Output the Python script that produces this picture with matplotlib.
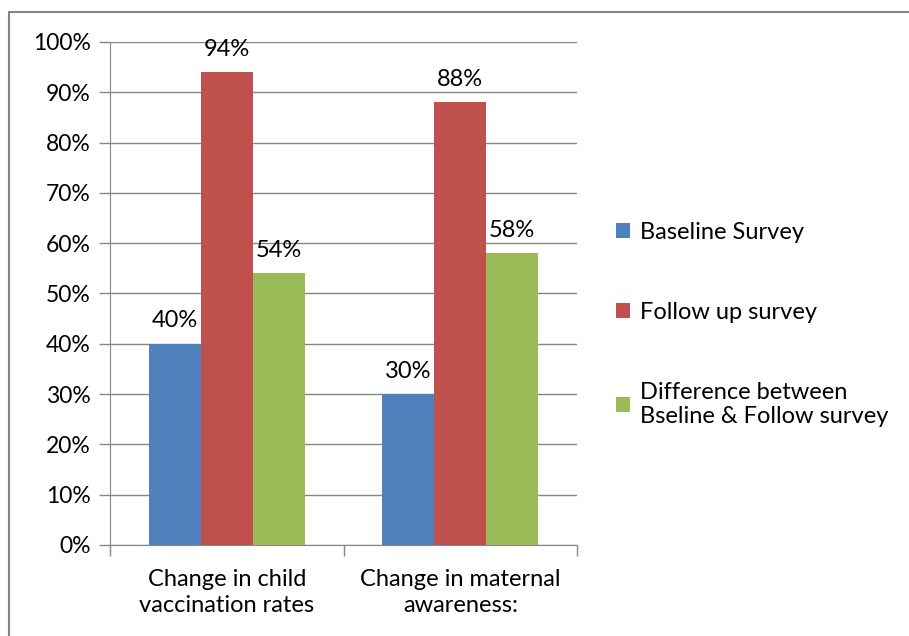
import matplotlib.pyplot as plt
from matplotlib.patches import Rectangle
from matplotlib.ticker import PercentFormatter
import numpy as np

plt.rcParams['font.family'] = ['Lato', 'DejaVu Sans']

categories = ['Change in child\nvaccination rates', 'Change in maternal\nawareness:']
series_names = ['Baseline Survey', 'Follow up survey',
                'Difference between\nBseline & Follow survey']
baseline = [40, 30]
follow_up = [94, 88]
difference = [54, 58]
colors = ['#4F81BD', '#C0504D', '#9BBB59']

fig = plt.figure(figsize=(9.09, 6.36), dpi=100)
ax = fig.add_axes([0.121, 0.1431, 0.5138, 0.7909])

# outer chart frame (cropped on the right and bottom in the original)
fig.patches.append(Rectangle((9 / 909, -0.1), 1.1, 1 - 12 / 636 + 0.1,
                             transform=fig.transFigure, fill=False,
                             edgecolor='#868686', lw=1.5))

x = np.arange(len(categories))
w = 0.2227
grid_col = '#868686'
fs = 17

for i, (vals, name) in enumerate(zip([baseline, follow_up, difference], series_names)):
    bars = ax.bar(x + (i - 1) * w, vals, w, color=colors[i], label=name, zorder=3)
    ax.bar_label(bars, labels=[f'{v}%' for v in vals], padding=9, fontsize=fs)

ax.set_xlim(-0.5, 1.5)
ax.set_ylim(0, 100)
ax.set_yticks(range(0, 101, 10))
ax.yaxis.set_major_formatter(PercentFormatter(decimals=0))
ax.grid(axis='y', color=grid_col, lw=1, zorder=0)

ax.set_xticks([-0.5, 0.5, 1.5])
ax.set_xticklabels([])
ax.set_xticks(x, minor=True)
ax.set_xticklabels(categories, minor=True, fontsize=fs, linespacing=1.3)
ax.tick_params(axis='x', which='minor', length=0, pad=17)
ax.tick_params(axis='x', which='major', length=8, color=grid_col, width=1)
ax.tick_params(axis='y', length=8, color=grid_col, width=1, labelsize=16.5, pad=6)

for side in ['top', 'right']:
    ax.spines[side].set_visible(False)
for side in ['left', 'bottom']:
    ax.spines[side].set_color(grid_col)

leg = ax.legend(loc='upper left', bbox_to_anchor=(616 / 909, 1 - 222 / 636),
                bbox_transform=fig.transFigure, frameon=False, fontsize=fs,
                handlelength=0.6, handleheight=0.6, handletextpad=0.4,
                labelspacing=2.5, borderpad=0, borderaxespad=0)

fig.savefig('out.png', dpi=100)
